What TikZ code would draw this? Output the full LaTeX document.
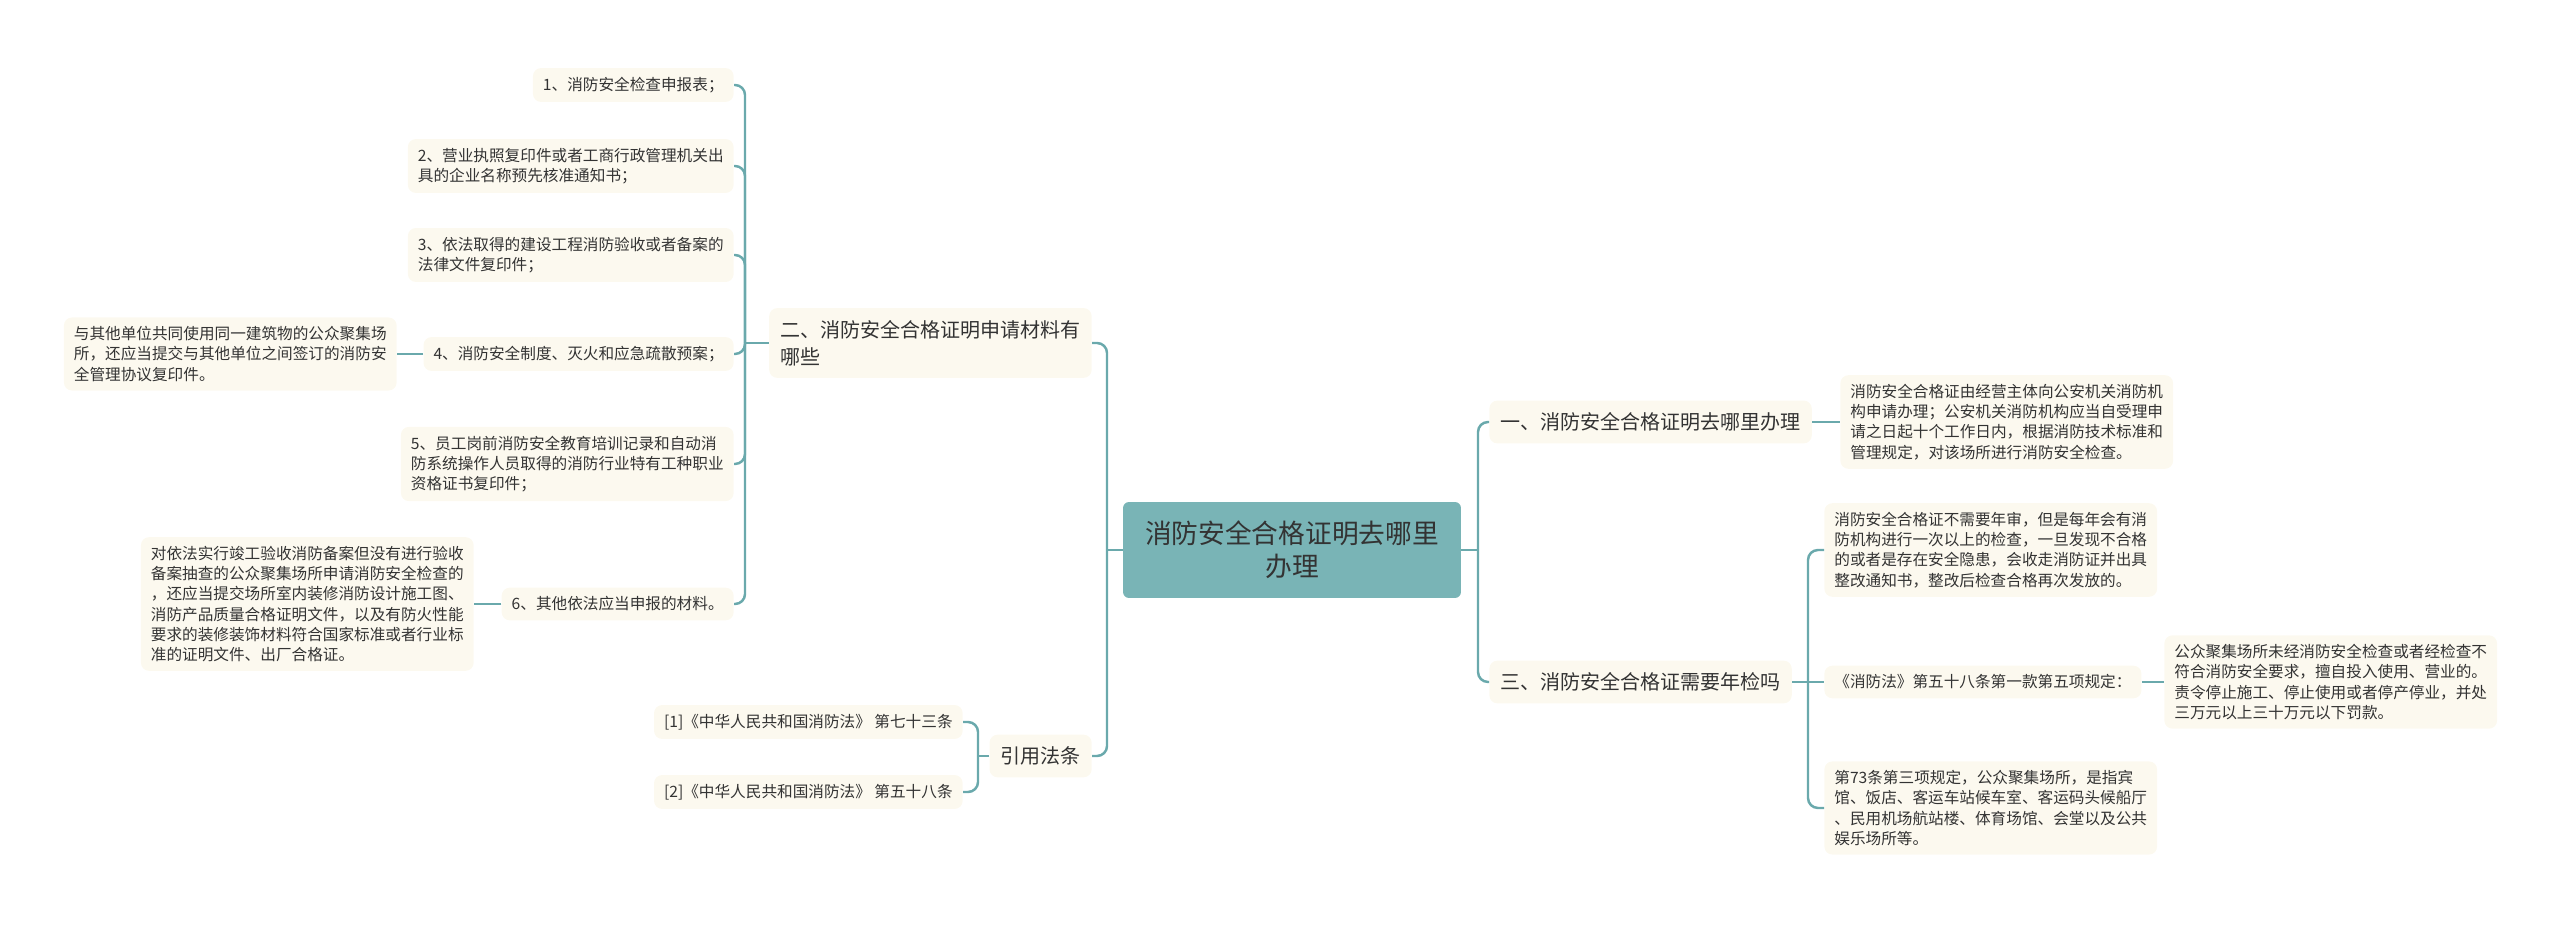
\documentclass[tikz,border=0pt]{standalone}
\usepackage{fontspec}
\setmainfont{Noto Sans CJK SC}
\usepackage{tikz}
\usetikzlibrary{positioning,calc}
\definecolor{mapInk}{HTML}{333333}
\definecolor{mapTeal}{HTML}{79B4B6}
\definecolor{mapLine}{HTML}{6AA9AC}
\definecolor{mapCream}{HTML}{FCF9EF}
\newcommand{\leaffont}{\fontsize{8.9pt}{11.5pt}\selectfont}
\newcommand{\topicfont}{\fontsize{11.4pt}{15.4pt}\selectfont}
\newcommand{\rootfont}{\fontsize{15.2pt}{18.8pt}\selectfont}
\begin{document}
\begin{tikzpicture}[x=0.02cm,y=-0.02cm,
  rootbox/.style={fill=mapTeal,text=mapInk,rounded corners=0.12cm,align=center,
    minimum width=6.76cm,minimum height=1.92cm,font=\rootfont},
  topicbox/.style={fill=mapCream,text=mapInk,rounded corners=0.16cm,align=left,
    inner xsep=0.22cm,inner ysep=0.24cm,font=\topicfont},
  leafbox/.style={fill=mapCream,text=mapInk,rounded corners=0.16cm,align=left,
    inner xsep=0.2cm,inner ysep=0.18cm,font=\leaffont},
  link/.style={draw=mapLine,line width=1.4pt,rounded corners=0.2cm}]
\useasboundingbox (0,0) rectangle (2560,925);
\node[rootbox] (root) at (1292,550) {消防安全合格证明去哪里\\办理};
\node[topicbox,anchor=east] (two) at (1092,343) {二、消防安全合格证明申请材料有\\哪些};
\node[topicbox,anchor=east] (cite) at (1092,756) {引用法条};
\node[topicbox,anchor=west] (one) at (1489,422) {一、消防安全合格证明去哪里办理};
\node[topicbox,anchor=west] (three) at (1489,682) {三、消防安全合格证需要年检吗};
\node[leafbox,anchor=east] (i1) at (734,85) {1、消防安全检查申报表；};
\node[leafbox,anchor=east] (i2) at (734,166) {2、营业执照复印件或者工商行政管理机关出\\具的企业名称预先核准通知书；};
\node[leafbox,anchor=east] (i3) at (734,255) {3、依法取得的建设工程消防验收或者备案的\\法律文件复印件；};
\node[leafbox,anchor=east] (i4) at (734,354) {4、消防安全制度、灭火和应急疏散预案；};
\node[leafbox,anchor=east] (i4d) at (397,354) {与其他单位共同使用同一建筑物的公众聚集场\\所，还应当提交与其他单位之间签订的消防安\\全管理协议复印件。};
\node[leafbox,anchor=east] (i5) at (734,464) {5、员工岗前消防安全教育培训记录和自动消\\防系统操作人员取得的消防行业特有工种职业\\资格证书复印件；};
\node[leafbox,anchor=east] (i6) at (734,604) {6、其他依法应当申报的材料。};
\node[leafbox,anchor=east] (i6d) at (474,604) {对依法实行竣工验收消防备案但没有进行验收\\备案抽查的公众聚集场所申请消防安全检查的\\，还应当提交场所室内装修消防设计施工图、\\消防产品质量合格证明文件，以及有防火性能\\要求的装修装饰材料符合国家标准或者行业标\\准的证明文件、出厂合格证。};
\node[leafbox,anchor=east] (c1) at (963,722) {[1]《中华人民共和国消防法》 第七十三条};
\node[leafbox,anchor=east] (c2) at (963,792) {[2]《中华人民共和国消防法》 第五十八条};
\node[leafbox,anchor=west] (oned) at (1840,422) {消防安全合格证由经营主体向公安机关消防机\\构申请办理；公安机关消防机构应当自受理申\\请之日起十个工作日内，根据消防技术标准和\\管理规定，对该场所进行消防安全检查。};
\node[leafbox,anchor=west] (t1) at (1824,550) {消防安全合格证不需要年审，但是每年会有消\\防机构进行一次以上的检查，一旦发现不合格\\的或者是存在安全隐患，会收走消防证并出具\\整改通知书，整改后检查合格再次发放的。};
\node[leafbox,anchor=west] (t2) at (1824,682) {《消防法》第五十八条第一款第五项规定：};
\node[leafbox,anchor=west] (t2d) at (2164,682) {公众聚集场所未经消防安全检查或者经检查不\\符合消防安全要求，擅自投入使用、营业的。\\责令停止施工、停止使用或者停产停业，并处\\三万元以上三十万元以下罚款。};
\node[leafbox,anchor=west] (t3) at (1824,808) {第73条第三项规定，公众聚集场所，是指宾\\馆、饭店、客运车站候车室、客运码头候船厅\\、民用机场航站楼、体育场馆、会堂以及公共\\娱乐场所等。};
\coordinate (ls) at (1107,550);
\coordinate (is) at (745,343);
\coordinate (cs) at (978,756);
\coordinate (rs) at (1478,550);
\coordinate (ts) at (1808,682);
\draw[link] (root.west) -- (ls);
\draw[link] (ls) |- (two.east);
\draw[link] (ls) |- (cite.east);
\draw[link] (two.west) -- (is);
\foreach \n in {i1,i2,i3,i4,i5,i6}
  \draw[link] (is) |- (\n.east);
\draw[link] (i4.west) -- (i4d.east);
\draw[link] (i6.west) -- (i6d.east);
\draw[link] (cite.west) -- (cs);
\draw[link] (cs) |- (c1.east);
\draw[link] (cs) |- (c2.east);
\draw[link] (root.east) -- (rs);
\draw[link] (rs) |- (one.west);
\draw[link] (rs) |- (three.west);
\draw[link] (one.east) -- (oned.west);
\draw[link] (three.east) -- (ts);
\draw[link] (ts) |- (t1.west);
\draw[link] (ts) -- (t2.west);
\draw[link] (ts) |- (t3.west);
\draw[link] (t2.east) -- (t2d.west);
\end{tikzpicture}
\end{document}
